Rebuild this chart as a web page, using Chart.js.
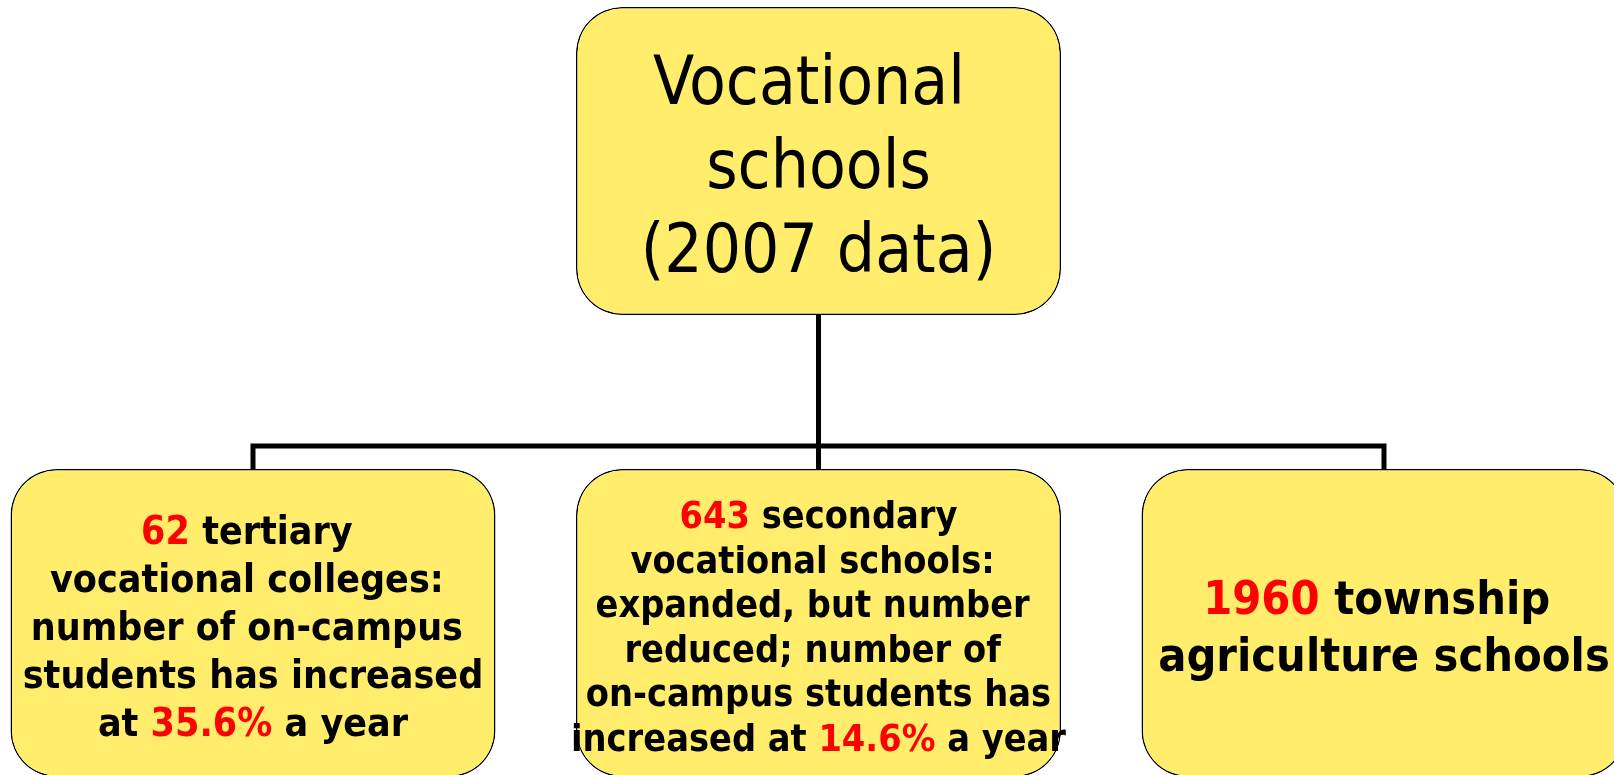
<!DOCTYPE html>
<html>
<head>
<meta charset="utf-8">
<script src="https://cdn.jsdelivr.net/npm/chart.js@4.4.1/dist/chart.umd.min.js"></script>
<style>
  html, body { margin: 0; padding: 0; background: #ffffff; overflow: hidden; }
  #wrap { position: relative; width: 1614px; height: 775px; }
</style>
</head>
<body>
<div id="wrap"><canvas id="c"></canvas></div>
<script>
// ---------------- data ----------------
// root node (level 0, column 0)
const rootLabel  = ["Vocational ", "schools", "(2007 data)"];
const rootColumn = [0];
const rootLevel  = [0];

// child nodes (level 1, columns -1, 0, 1); [..] marks the red figures
const childColumns = [-1, 0, 1];
const childLevels  = [1, 1, 1];
const childLabels  = [
  ["[62] tertiary ", "vocational colleges: ", "number of on-campus ", "students has increased", "at [35.6%] a year"],
  ["[643] secondary", "vocational schools: ", "expanded, but number ", "reduced; number of ", "on-campus students has", "increased at [14.6%] a year"],
  ["[1960] township ", "agriculture schools"]
];

// ---------------- layout / style ----------------
const BOX_HALF = 1 / 3;          // half box height, in level units
const BUS_FRAC = 0.85;           // where the horizontal bus sits inside the gap
const FILL = "#FFED6B";
const RED = "#FF0000";
const FAMILY = '"DejaVu Sans Condensed", "DejaVu Sans", sans-serif';
const rootStyle  = { weight: "normal", size: 67, lh: 84 };
const childStyle = [
  { weight: "bold", size: 39, lh: 48 },
  { weight: "bold", size: 37.5, lh: 44.5 },
  { weight: "bold", size: 46.5, lh: 57 }
];

// ---------------- build datasets from the arrays ----------------
const rootBars = rootColumn.map((c, i) => ({ x: c, y: [rootLevel[i] - BOX_HALF, rootLevel[i] + BOX_HALF] }));
const childBars = childColumns.map((c, i) => ({ x: c, y: [childLevels[i] - BOX_HALF, childLevels[i] + BOX_HALF] }));

const connectors = childColumns.map((c, i) => {
  const rc = rootColumn[0], rl = rootLevel[0], cl = childLevels[i];
  const top = rl + BOX_HALF, bottom = cl - BOX_HALF;
  const bus = top + (bottom - top) * BUS_FRAC;
  return {
    type: "line",
    data: [{ x: rc, y: top }, { x: rc, y: bus }, { x: c, y: bus }, { x: c, y: bottom }],
    borderColor: "#000000",
    borderWidth: 5,
    borderJoinStyle: "miter",
    borderCapStyle: "butt",
    pointRadius: 0,
    fill: false,
    tension: 0,
    clip: false,
    order: 5
  };
});

const barStyle = {
  backgroundColor: FILL,
  borderColor: "#000000",
  borderWidth: 1.5,
  borderSkipped: false,
  borderRadius: 46,
  grouped: false,
  categoryPercentage: 1,
  barPercentage: 0.8576,
  order: 1
};

const labelsByDataset = [[rootLabel], childLabels];
const stylesByDataset = [[rootStyle], childStyle];

const textPlugin = {
  id: "nodeText",
  afterDatasetsDraw(chart) {
    const ctx = chart.ctx;
    [0, 1].forEach(di => {
      const meta = chart.getDatasetMeta(di);
      meta.data.forEach((el, j) => {
        const p = el.getProps(["x", "y", "base"], true);
        const cx = p.x, cy = (p.y + p.base) / 2;
        const lines = labelsByDataset[di][j];
        const st = stylesByDataset[di][j];
        ctx.save();
        ctx.font = `${st.weight} ${st.size}px ${FAMILY}`;
        ctx.textBaseline = "alphabetic";
        ctx.textAlign = "left";
        const cap = st.size * 0.729;
        const n = lines.length;
        lines.forEach((line, k) => {
          const segs = [];
          line.split(/(\[[^\]]+\])/).forEach(s => {
            if (!s) return;
            if (s[0] === "[") segs.push({ t: s.slice(1, -1), c: RED });
            else segs.push({ t: s, c: "#000000" });
          });
          const full = segs.map(s => s.t).join("");
          const w = ctx.measureText(full).width;
          let x = cx - w / 2;
          const yb = cy + 3 + (k - (n - 1) / 2) * st.lh + cap / 2;
          segs.forEach(s => {
            ctx.fillStyle = s.c;
            ctx.fillText(s.t, x, yb);
            x += ctx.measureText(s.t).width;
          });
        });
        ctx.restore();
      });
    });
  }
};

new Chart(document.getElementById("c"), {
  type: "bar",
  data: {
    datasets: [
      Object.assign({ label: "root", data: rootBars }, barStyle),
      Object.assign({ label: "children", data: childBars }, barStyle),
      ...connectors
    ]
  },
  options: {
    responsive: true,
    maintainAspectRatio: false,
    animation: false,
    events: [],
    layout: { padding: 0 },
    plugins: { legend: { display: false }, tooltip: { enabled: false }, title: { display: false } },
    scales: {
      x: {
        type: "linear",
        display: false,
        offset: false,
        min: -1.44739,
        max: 1.40672,
        ticks: { stepSize: 1, includeBounds: false },
        grid: { display: false, offset: false }
      },
      y: {
        type: "linear",
        display: false,
        reverse: true,
        min: -0.34848,
        max: 1.32900,
        grid: { display: false }
      }
    }
  },
  plugins: [textPlugin]
});
</script>
</body>
</html>
